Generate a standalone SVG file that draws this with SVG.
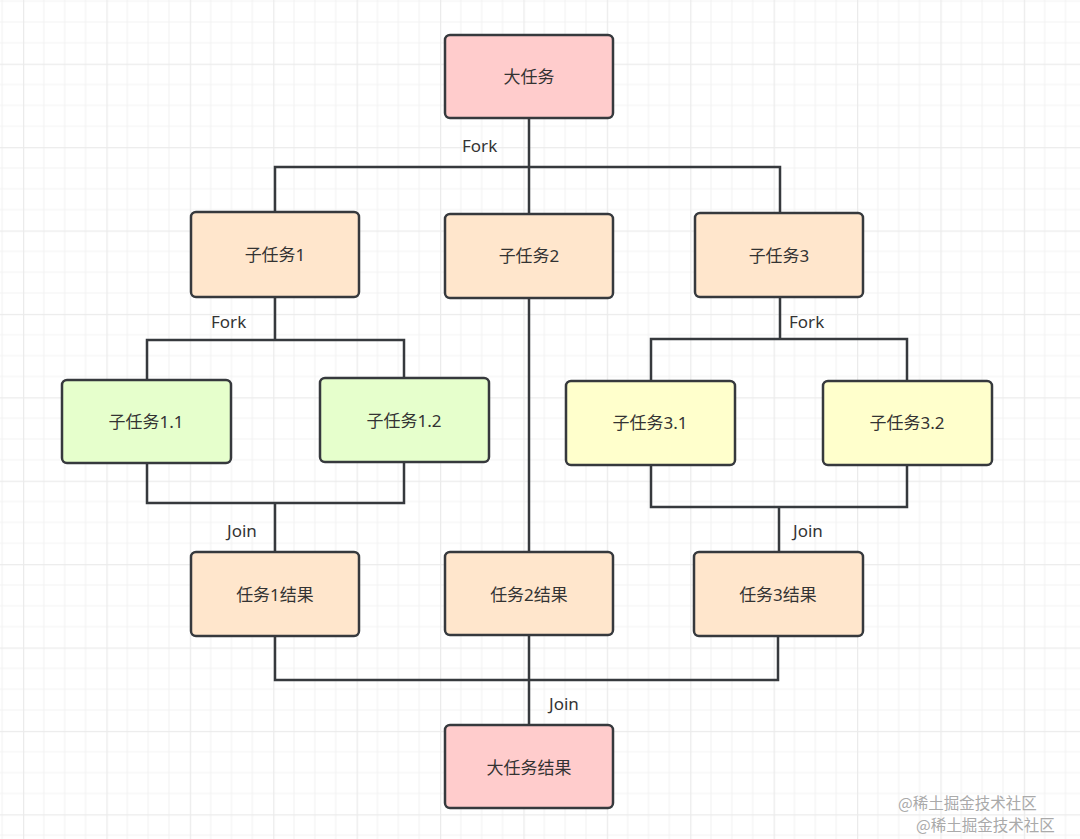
<svg xmlns="http://www.w3.org/2000/svg" width="1080" height="839" viewBox="0 0 1080 839">
<style>
.n{stroke:#36393d;stroke-width:2.5}
.pink{fill:#ffcccc}.org{fill:#ffe6cc}.grn{fill:#e6ffcc}.yel{fill:#ffffcc}
.t{font-family:"Noto Sans","Noto Sans CJK SC",sans-serif;font-size:17px;fill:#333;text-anchor:middle;dominant-baseline:central}
.l{font-family:"Noto Sans","Noto Sans CJK SC",sans-serif;font-size:17px;fill:#333;dominant-baseline:central}
.c{fill:none;stroke:#36393d;stroke-width:2.5}
.wm{font-family:"Noto Sans CJK SC",sans-serif;font-size:15.5px;fill:#aaaaaa}
</style>
<defs>
<pattern id="grid" patternUnits="userSpaceOnUse" x="23" y="63.7" width="83.4" height="83.4">
<path d="M20.85 0V83.4M41.7 0V83.4M62.55 0V83.4M0 20.85H83.4M0 41.7H83.4M0 62.55H83.4" stroke="#f3f3f3" stroke-width="1.2" fill="none"/>
<path d="M0.5 0V83.4M0 0.5H83.4" stroke="#ebebeb" stroke-width="1.5" fill="none"/>
</pattern>
</defs>
<rect width="1080" height="839" fill="#ffffff"/>
<rect width="1080" height="839" fill="url(#grid)"/>
<g id="connectors">
<path class="c" d="M529 118V167M275 212V167H780V213M529 167V214"/>
<path class="c" d="M275 297V340M147 380V340H404V378"/>
<path class="c" d="M529 298V552"/>
<path class="c" d="M780 297V339M651 381V339H907V381"/>
<path class="c" d="M147 463V503H404V462M275 503V552"/>
<path class="c" d="M651 465V507H907V465M779 507V552"/>
<path class="c" d="M275 636V680H778V636M529 635V725"/>
<text class="l" x="462" y="145">Fork</text>
<text class="l" x="211" y="321">Fork</text>
<text class="l" x="789" y="321">Fork</text>
<text class="l" x="227" y="530">Join</text>
<text class="l" x="793" y="530">Join</text>
<text class="l" x="549" y="703">Join</text>
</g>
<g id="n0"><rect class="n pink" x="445" y="35" width="168" height="83" rx="5"/><text class="t" x="529" y="76">大任务</text></g>
<g id="n1"><rect class="n org" x="191" y="212" width="168" height="85" rx="5"/><text class="t" x="275" y="254">子任务1</text></g>
<g id="n2"><rect class="n org" x="445" y="214" width="168" height="84" rx="5"/><text class="t" x="529" y="255">子任务2</text></g>
<g id="n3"><rect class="n org" x="695" y="213" width="168" height="84" rx="5"/><text class="t" x="779" y="255">子任务3</text></g>
<g id="n11"><rect class="n grn" x="62" y="380" width="169" height="83" rx="5"/><text class="t" x="146" y="421">子任务1.1</text></g>
<g id="n12"><rect class="n grn" x="320" y="378" width="169" height="84" rx="5"/><text class="t" x="404" y="420">子任务1.2</text></g>
<g id="n31"><rect class="n yel" x="566" y="381" width="169" height="84" rx="5"/><text class="t" x="650" y="422">子任务3.1</text></g>
<g id="n32"><rect class="n yel" x="823" y="381" width="169" height="84" rx="5"/><text class="t" x="907" y="422">子任务3.2</text></g>
<g id="r1"><rect class="n org" x="191" y="552" width="168" height="84" rx="5"/><text class="t" x="275" y="594">任务1结果</text></g>
<g id="r2"><rect class="n org" x="445" y="552" width="168" height="83" rx="5"/><text class="t" x="529" y="594">任务2结果</text></g>
<g id="r3"><rect class="n org" x="694" y="552" width="169" height="84" rx="5"/><text class="t" x="778" y="594">任务3结果</text></g>
<g id="rf"><rect class="n pink" x="445" y="725" width="168" height="83" rx="5"/><text class="t" x="529" y="767">大任务结果</text></g>
<text class="wm" x="898" y="809">@稀土掘金技术社区</text>
<text class="wm" x="916" y="831">@稀土掘金技术社区</text>
</svg>
